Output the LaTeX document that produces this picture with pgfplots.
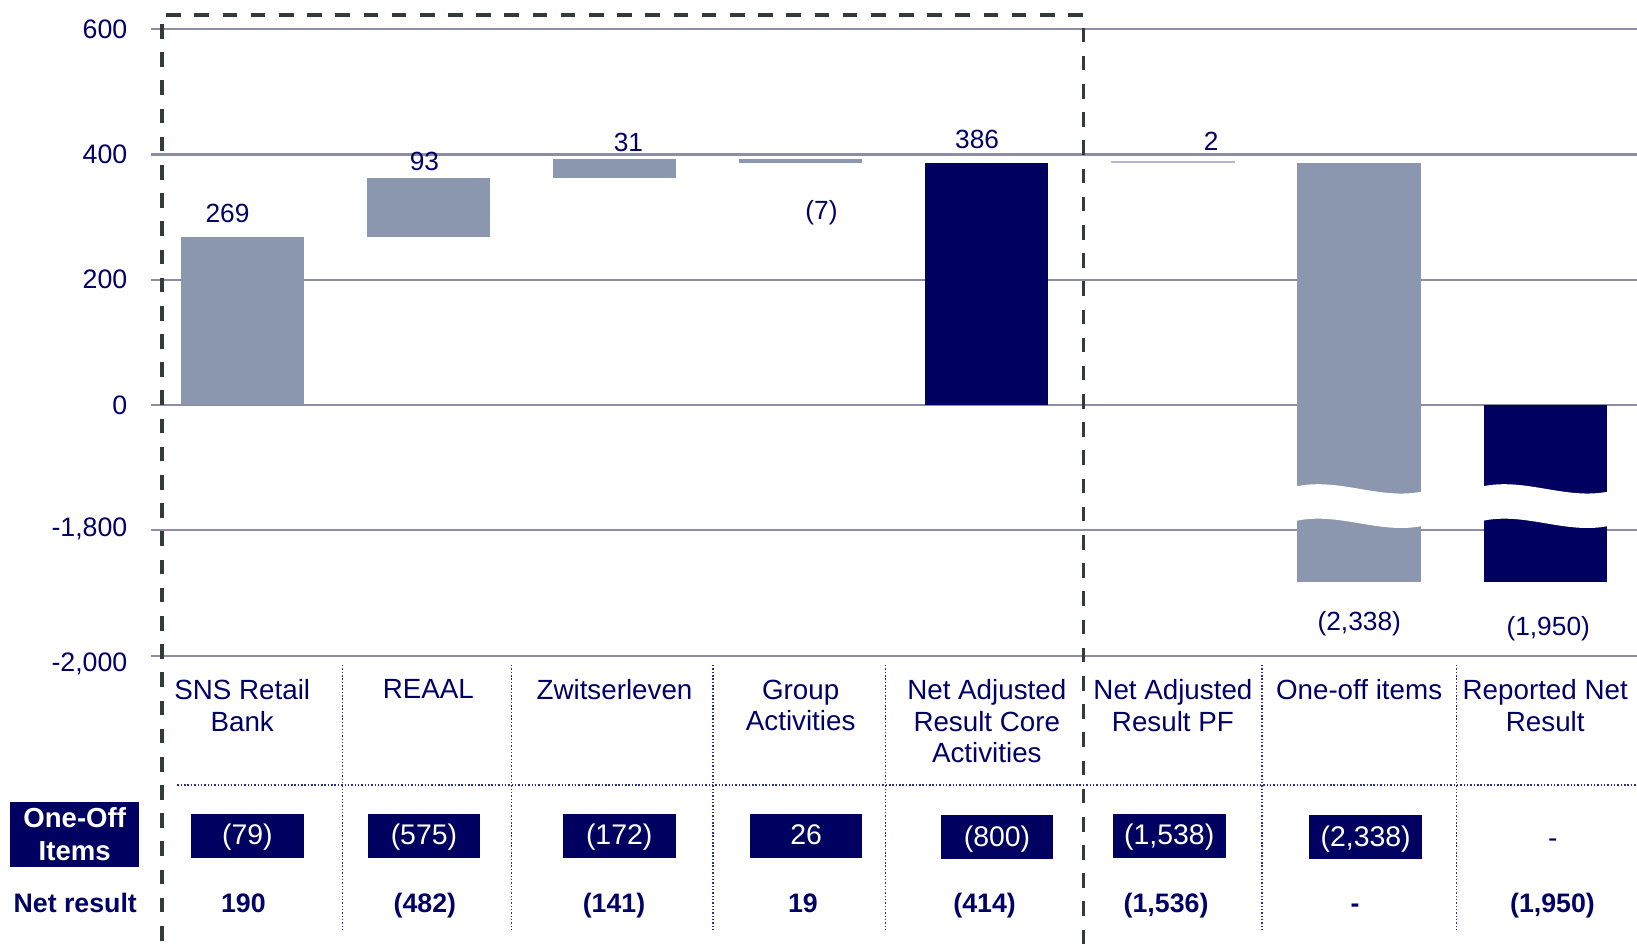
\documentclass[border=0pt]{standalone}
\usepackage{pgfplots}
\pgfplotsset{compat=1.18}
\usepackage{fontspec}
\setmainfont{Liberation Sans}
\definecolor{navy}{HTML}{000060}
\definecolor{barg}{HTML}{8B97AE}
\definecolor{barl}{HTML}{B0BACB}
\definecolor{gridc}{HTML}{8C8EA3}
\definecolor{txt}{HTML}{000066}
\definecolor{dotc}{HTML}{30308C}
\definecolor{dashc}{HTML}{333A3A}
\begin{document}
\begin{tikzpicture}
\useasboundingbox (0,0) rectangle (784pt,455pt);
\begin{axis}[
  at={(77.5pt,141pt)}, anchor=south west,
  scale only axis, width=706.5pt, height=300pt,
  xmin=-0.432, xmax=7.493, ymin=-400, ymax=600,
  clip=false,
  axis line style={draw=none},
  xtick=\empty,
  ytick={-400,-200,0,200,400,600},
  yticklabels={{\raisebox{-7.5pt}[0pt][0pt]{-2,000}},{\raisebox{-3pt}[0pt][0pt]{-1,800}},0,200,400,600},
  ymajorgrids, grid style={gridc, line width=1pt},
  tick align=outside, major tick length=5pt,
  ytick style={gridc, line width=1pt},
  yticklabel style={font=\fontsize{12.8}{14}\selectfont, text=txt, xshift=-8pt},
]
% waterfall bars (broken axis: -1800 plotted at -200, -2000 at -400)
\addplot[fill=barg, draw=none] coordinates {(-0.331,0) (0.331,0) (0.331,269) (-0.331,269)};
\addplot[fill=barg, draw=none] coordinates {(0.669,269) (1.331,269) (1.331,362) (0.669,362)};
\addplot[fill=barg, draw=none] coordinates {(1.669,362) (2.331,362) (2.331,393) (1.669,393)};
\addplot[fill=barg, draw=none] coordinates {(2.669,386) (3.331,386) (3.331,393) (2.669,393)};
\addplot[fill=navy, draw=none] coordinates {(3.669,0) (4.331,0) (4.331,386) (3.669,386)};
\addplot[fill=barl, draw=none] coordinates {(4.669,386) (5.331,386) (5.331,389) (4.669,389)};
\addplot[fill=barg, draw=none] coordinates {(5.669,-283) (6.331,-283) (6.331,387) (5.669,387)};
\addplot[fill=navy, draw=none] coordinates {(6.669,-283) (7.331,-283) (7.331,0) (6.669,0)};
% break waves
\fill[white] (axis cs:5.66,-130) .. controls (axis cs:5.89,-115) and (axis cs:6.11,-152) .. (axis cs:6.34,-138) -- (axis cs:6.34,-193) .. controls (axis cs:6.11,-207) and (axis cs:5.89,-170) .. (axis cs:5.66,-185) -- cycle;
\fill[white] (axis cs:6.66,-130) .. controls (axis cs:6.89,-115) and (axis cs:7.11,-152) .. (axis cs:7.34,-138) -- (axis cs:7.34,-193) .. controls (axis cs:7.11,-207) and (axis cs:6.89,-170) .. (axis cs:6.66,-185) -- cycle;
% value labels
\begin{scope}[every node/.style={text=txt, font=\fontsize{12.6}{14}\selectfont, text height=0.72em, text depth=0.21em}]
\node at (axis cs:-0.079,300) {269};
\node at (axis cs:0.979,383) {93};
\node at (axis cs:2.075,413) {31};
\node at (axis cs:3.112,305) {(7)};
\node at (axis cs:3.948,418) {386};
\node at (axis cs:5.205,415) {2};
\node at (axis cs:6.001,-352) {(2,338)};
\node at (axis cs:7.016,-360) {(1,950)};
\end{scope}
% category labels
\begin{scope}[every node/.style={anchor=north, align=center, inner sep=0pt, text=txt, font=\fontsize{13.3}{15}\selectfont}]
\node at (axis cs:0,-438) {SNS Retail\\Bank};
\node at (axis cs:1,-438) {REAAL};
\node at (axis cs:2,-438) {Zwitserleven};
\node at (axis cs:3,-438) {Group\\Activities};
\node at (axis cs:4,-438) {Net Adjusted\\Result Core\\Activities};
\node at (axis cs:5,-438) {Net Adjusted\\Result PF};
\node at (axis cs:6,-438) {One-off items};
\node at (axis cs:7,-438) {Reported Net\\Result};
\end{scope}
% dotted table lines
\begin{scope}[dotc, line width=0.8pt, dash pattern=on 0.7pt off 0.9pt]
\draw (axis cs:0.538,-415) -- (axis cs:0.538,-837);
\draw (axis cs:1.447,-415) -- (axis cs:1.447,-837);
\draw (axis cs:2.529,-415) -- (axis cs:2.529,-837);
\draw (axis cs:3.455,-415) -- (axis cs:3.455,-837);
\draw (axis cs:5.480,-415) -- (axis cs:5.480,-837);
\draw (axis cs:6.523,-415) -- (axis cs:6.523,-837);
\draw (axis cs:-0.348,-607) -- (axis cs:7.493,-607);
\end{scope}
% one-off items row
\begin{scope}[every node/.style={fill=navy, text=white, minimum width=54pt, minimum height=21pt, inner sep=0pt, text height=0.95em, text depth=0.1em, font=\fontsize{13.6}{15}\selectfont}]
\node at (axis cs:0.028,-688) {(79)};
\node at (axis cs:0.976,-688) {(575)};
\node at (axis cs:2.025,-688) {(172)};
\node at (axis cs:3.029,-688) {26};
\node at (axis cs:4.055,-690) {(800)};
\node at (axis cs:4.980,-688) {(1,538)};
\node at (axis cs:6.035,-690) {(2,338)};
\end{scope}
\node[text=txt, font=\fontsize{13.5}{15}\selectfont] at (axis cs:7.04,-700) {-};
\node[fill=navy, text=white, font=\bfseries\fontsize{13.2}{15.5}\selectfont, align=center, minimum width=61.5pt, minimum height=31pt, inner sep=0pt] at (axis cs:-0.900,-685) {One-Off\\Items};
% net result row
\begin{scope}[every node/.style={text=txt, font=\bfseries\fontsize{12.8}{14}\selectfont, text height=0.72em, text depth=0.21em}]
\node at (axis cs:-0.897,-802) {Net result};
\node at (axis cs:0.006,-802) {190};
\node at (axis cs:0.981,-802) {(482)};
\node at (axis cs:1.997,-802) {(141)};
\node at (axis cs:3.012,-802) {19};
\node at (axis cs:3.988,-802) {(414)};
\node at (axis cs:4.963,-802) {(1,536)};
\node at (axis cs:5.979,-802) {-};
\node at (axis cs:7.039,-802) {(1,950)};
\end{scope}
% dashed frame
\draw[dashc, line width=1.8pt, dash pattern=on 7pt off 6.5pt] (axis cs:-0.432,-900) -- (axis cs:-0.432,623) -- (axis cs:4.52,623) -- (axis cs:4.52,-900);
\end{axis}
\end{tikzpicture}
\end{document}
